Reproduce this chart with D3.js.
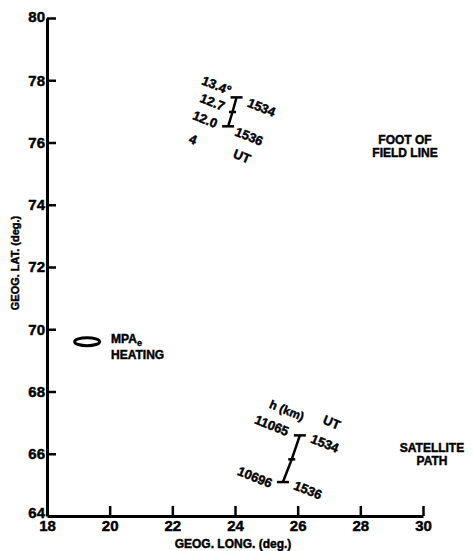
<!DOCTYPE html>
<html>
<head>
<meta charset="utf-8">
<script src="https://cdn.jsdelivr.net/npm/d3@7"></script>
<style>
  body { margin: 0; background: #fff; }
  text { font-family: "Liberation Sans", Arial, sans-serif; font-weight: bold; fill: #000; stroke: #000; stroke-width: 0.45px; }
</style>
</head>
<body>
<div id="chart"></div>
<script>
/***********************************************************************/
//Data
/***********************************************************************/
const xTicks = [18, 20, 22, 24, 26, 28, 30]
const yTicks = [64, 66, 68, 70, 72, 74, 76, 78, 80]

// foot of field line: top (1534 UT), middle, bottom (1536 UT)
const footLong = [24.05, 23.92, 23.78]
const footLat = [77.45, 76.98, 76.52]
const footAngles = ['13.4°', '12.7', '12.0']

// satellite path: top (1534 UT), middle, bottom (1536 UT)
const satLong = [26.07, 25.81, 25.53]
const satLat = [66.59, 65.82, 65.09]
const satHeights = ['11065', '10696']

const utTimes = ['1534', '1536']

// heating region
const heatLong = [19.28]
const heatLat = [69.6]

/***********************************************************************/
//Plot Area
/***********************************************************************/
const width = 473
const height = 551

const svg = d3.select('#chart')
	.append('svg')
	.attr('width', width)
	.attr('height', height)

const xScale = d3.scaleLinear().domain([18, 30]).range([47, 423])
const yScale = d3.scaleLinear().domain([64, 80]).range([516, 18])

/***********************************************************************/
//Axes
/***********************************************************************/
const xAxis = d3.axisBottom(xScale)
	.tickValues(xTicks)
	.tickSize(-10)
	.tickSizeOuter(0)
	.tickPadding(4)

const yAxis = d3.axisLeft(yScale)
	.tickValues(yTicks)
	.tickSize(-9)
	.tickSizeOuter(0)
	.tickPadding(2)

const xAxisG = svg.append('g')
	.attr('transform', 'translate(0,' + yScale(64) + ')')
	.call(xAxis)

const yAxisG = svg.append('g')
	.attr('transform', 'translate(' + xScale(18) + ',0)')
	.call(yAxis)

;[xAxisG, yAxisG].forEach(a => {
	a.select('.domain').attr('stroke', '#000').attr('stroke-width', 3)
	a.selectAll('.tick line').attr('stroke', '#000').attr('stroke-width', 2.5)
	a.selectAll('.tick text')
		.style('font-family', '"Liberation Sans", Arial, sans-serif')
		.style('font-weight', 'bold')
		.style('font-size', '15px')
		.attr('fill', '#000')
})
// first tick labels sit on the corner
xAxisG.selectAll('.tick').filter(d => d === 18).select('line').remove()
yAxisG.selectAll('.tick').filter(d => d === 64).select('line').remove()
yAxisG.selectAll('.tick').filter(d => d === 64).select('text').attr('dy', '0.1em')
yAxisG.selectAll('.tick').filter(d => d === 80).select('text').attr('dy', '0.25em')

svg.append('text')
	.attr('x', xScale(24) - 2)
	.attr('y', 548)
	.attr('text-anchor', 'middle')
	.style('font-size', '12px')
	.text('GEOG. LONG. (deg.)')

svg.append('text')
	.attr('transform', 'translate(19,' + 263 + ') rotate(-90)')
	.attr('text-anchor', 'middle')
	.style('font-size', '11px')
	.text('GEOG. LAT. (deg.)')

/***********************************************************************/
//Segments
/***********************************************************************/
const rot = 22

function drawBar(longs, lats) {
	const pts = longs.map((lo, i) => [xScale(lo), yScale(lats[i])])
	svg.append('path')
		.attr('d', d3.line()(pts))
		.attr('fill', 'none')
		.attr('stroke', '#000')
		.attr('stroke-width', 2.5)
	const caps = [[0, 12], [1, 7], [2, 12]]
	caps.forEach(([i, w]) => {
		svg.append('line')
			.attr('x1', pts[i][0] - w / 2).attr('x2', pts[i][0] + w / 2)
			.attr('y1', pts[i][1]).attr('y2', pts[i][1])
			.attr('stroke', '#000')
			.attr('stroke-width', 2.5)
	})
	return pts
}

function label(p, dx, dy, txt, size) {
	return svg.append('text')
		.attr('transform', 'translate(' + (p[0] + dx) + ',' + (p[1] + dy) + ') rotate(' + rot + ')')
		.attr('text-anchor', 'middle')
		.attr('dy', '0.35em')
		.style('font-size', (size || 13) + 'px')
		.text(txt)
}

const foot = drawBar(footLong, footLat)
label(foot[0], -20, -12, footAngles[0])
label(foot[1], -20, -10, footAngles[1])
label(foot[2], -23, -7, footAngles[2])
label(foot[0], 25, 10, utTimes[0])
label(foot[2], 21, 10, utTimes[1])
label(foot[2], -35, 13, '4')
label(foot[2], 14, 30, 'UT')

const sat = drawBar(satLong, satLat)
label(sat[0], -28, -10, satHeights[0])
label(sat[2], -28, -5, satHeights[1])
label(sat[0], 25, 8, utTimes[0])
label(sat[2], 25, 8, utTimes[1])
label(sat[0], -13, -25, 'h (km)', 12)
label(sat[0], 32, -13, 'UT')

/***********************************************************************/
//Heating
/***********************************************************************/
svg.append('ellipse')
	.attr('cx', xScale(heatLong[0]))
	.attr('cy', yScale(heatLat[0]))
	.attr('rx', 12.5)
	.attr('ry', 4)
	.attr('fill', 'none')
	.attr('stroke', '#000')
	.attr('stroke-width', 3)

const heatText = svg.append('text')
	.attr('x', xScale(heatLong[0]) + 24)
	.attr('y', yScale(heatLat[0]) + 1)
	.style('font-size', '12px')
heatText.append('tspan').text('MPA')
heatText.append('tspan').attr('dy', 3).style('font-size', '9px').text('e')
svg.append('text')
	.attr('x', xScale(heatLong[0]) + 24)
	.attr('y', yScale(heatLat[0]) + 17)
	.style('font-size', '12px')
	.text('HEATING')

/***********************************************************************/
//Region labels
/***********************************************************************/
const notes = [
	{ x: 405, y: 144, lines: ['FOOT OF', 'FIELD LINE'] },
	{ x: 432, y: 452, lines: ['SATELLITE', 'PATH'] }
]
notes.forEach(n => {
	n.lines.forEach((l, i) => {
		svg.append('text')
			.attr('x', n.x)
			.attr('y', n.y + i * 13)
			.attr('text-anchor', 'middle')
			.style('font-size', '12px')
			.text(l)
	})
})
</script>
</body>
</html>
